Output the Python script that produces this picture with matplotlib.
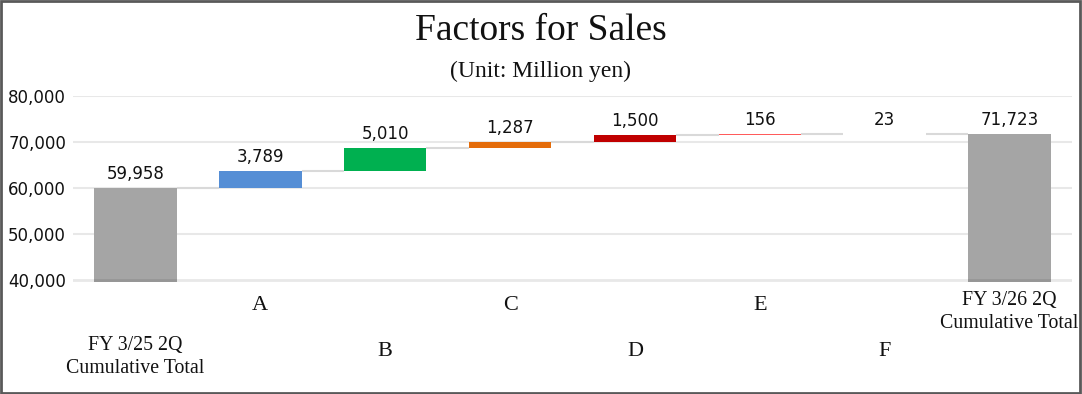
import matplotlib
matplotlib.use("Agg")
import matplotlib.pyplot as plt
import matplotlib.transforms as mtransforms
from matplotlib.patches import Rectangle
import numpy as np

categories = ["FY 3/25 2Q\nCumulative Total", "A", "B", "C", "D", "E", "F",
              "FY 3/26 2Q\nCumulative Total"]
start_total = 59958
deltas = [3789, 5010, 1287, 1500, 156, 23]
end_total = 71723
bar_colors = ["#A5A5A5", "#558ED5", "#00B050", "#E46C0A", "#C00000",
              "#FF5B5B", "#F4B183", "#A5A5A5"]
yticks = [40000, 50000, 60000, 70000, 80000]

W, H = 1082, 394
fig = plt.figure(figsize=(W / 100, H / 100), dpi=100)
fig.patch.set_facecolor("white")

ax = fig.add_axes([73 / W, 1 - 282 / H, (1072 - 73) / W, (282 - 96) / H])
ax.set_xlim(-0.5, len(categories) - 0.5)
ymin = 40000 - 2 * 10000 / 46
ax.set_ylim(ymin, 80000)

x = np.arange(len(categories))
width = 0.66

bottoms = [0]
heights = [start_total]
levels = [start_total]
cum = start_total
for d in deltas:
    bottoms.append(cum)
    heights.append(d)
    cum += d
    levels.append(cum)
bottoms.append(0)
heights.append(end_total)
levels.append(end_total)

# gridlines
for t in yticks[1:]:
    ax.axhline(t, color="#E8E8E8", lw=1.5, zorder=0)
ax.axhline(yticks[0], color="black", alpha=0.09, lw=2, zorder=3)

ax.bar(x, heights, bottom=bottoms, width=width, color=bar_colors,
       zorder=2, linewidth=0)

# connectors
for i in range(len(categories) - 1):
    ax.plot([x[i] + width / 2, x[i + 1] - width / 2], [levels[i], levels[i]],
            color="#D9D9D9", lw=1.5, zorder=1, solid_capstyle="butt")

# data labels
labels_vals = [start_total] + deltas + [end_total]
for i, v in enumerate(labels_vals):
    top = bottoms[i] + heights[i]
    ax.annotate(f"{v:,}", (x[i], top), xytext=(0, 10.1),
                textcoords="offset points", ha="center", va="center",
                fontsize=12, family="DejaVu Sans", color="#111111")

for s in ax.spines.values():
    s.set_visible(False)
ax.set_yticks(yticks)
ax.set_yticklabels([f"{t:,}" for t in yticks], fontsize=12,
                   family="DejaVu Sans", color="#111111")
ax.tick_params(axis="y", length=0, pad=5)
ax.set_xticks([])

# staggered category labels
trans = mtransforms.blended_transform_factory(ax.transData, fig.transFigure)
for i, c in enumerate(categories):
    multi = "\n" in c
    upper = i % 2 == 1
    if multi:
        ytop = 291 if upper else 336
    else:
        ytop = 296 if upper else 342
    ax.text(x[i], 1 - ytop / H, c, transform=trans, ha="center", va="top",
            fontsize=14.3 if multi else 16, family="Liberation Serif",
            color="#111111", linespacing=1.3, multialignment="center")

fig.text(0.5, 1 - 31 / H, "Factors for Sales", ha="center", va="center",
         fontsize=27, family="Liberation Serif", color="#111111")
fig.text(0.5, 1 - 71 / H, "(Unit: Million yen)", ha="center", va="center",
         fontsize=17, family="Liberation Serif", color="#111111")

fig.patches.append(Rectangle((0.001, 0.002), 0.997, 0.995, transform=fig.transFigure,
                             fill=False, edgecolor="#595959", lw=2))

fig.savefig("out.png", dpi=100, facecolor="white")
